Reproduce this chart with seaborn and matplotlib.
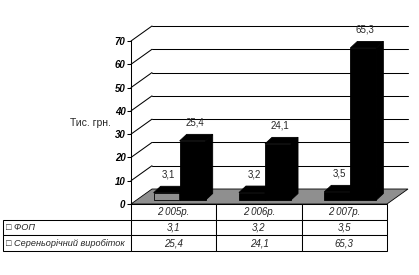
import matplotlib
matplotlib.use('Agg')
import matplotlib.pyplot as plt
import seaborn as sns
import pandas as pd
import numpy as np
from matplotlib.transforms import offset_copy, IdentityTransform
from matplotlib.patches import Polygon
from matplotlib.lines import Line2D

# ---- data ----
years = ["2 005р.", "2 006р.", "2 007р."]
series_names = ["ФОП", "Сереньорічний виробіток"]
fop = [3.1, 3.2, 3.5]
avg_output = [25.4, 24.1, 65.3]
y_ticks = [0, 10, 20, 30, 40, 50, 60, 70]
y_label = "Тис. грн."

sns.set_style('white')
plt.rcParams['font.family'] = ['Liberation Sans', 'DejaVu Sans']

W, H = 419, 275
fig = plt.figure(figsize=(W / 100, H / 100), dpi=100)
ax = fig.add_axes([131 / W, (H - 204) / H, 256 / W, 163 / H])

df = pd.DataFrame({
    'year': years * 2,
    'series': [series_names[0]] * len(years) + [series_names[1]] * len(years),
    'value': fop + avg_output,
})
sns.barplot(data=df, x='year', y='value', hue='series', order=years,
            hue_order=series_names, palette=['black', 'black'], saturation=1,
            width=0.61, edgecolor='black', linewidth=0.6, legend=False,
            errorbar=None, ax=ax)
ax.set_xlim(-0.5, 2.5)
ax.set_ylim(0, 70)
ax.set_yticks(y_ticks)

FLOOR_D = np.array([21.0, 15.0])
BAR_SHIFT = (6, 4)
BAR_D = np.array([7.0, 6.5])
T_back = offset_copy(ax.transData, fig=fig, x=FLOOR_D[0], y=FLOOR_D[1], units='dots')
T_bar = offset_copy(ax.transData, fig=fig, x=BAR_SHIFT[0], y=BAR_SHIFT[1], units='dots')
ID = IdentityTransform()

# floor
fl = ax.transData.transform((-0.5, 0))
fr = ax.transData.transform((2.5, 0))
floor = Polygon([fl, fr, fr + FLOOR_D, fl + FLOOR_D], closed=True, transform=ID,
                facecolor='#8f8f8f', edgecolor='black', lw=0.6, zorder=1.5, clip_on=False)
ax.add_patch(floor)

# back-wall gridlines
for v in y_ticks[1:]:
    ax.plot([-0.5, 2.5], [v, v], transform=T_back, color='black', lw=0.75,
            clip_on=False, zorder=1)
    p = ax.transData.transform((-0.5, v))
    ax.add_line(Line2D([p[0], p[0] + FLOOR_D[0]], [p[1], p[1] + FLOOR_D[1]],
                       transform=ID, color='black', lw=0.75, clip_on=False, zorder=1))

# bars with 3D faces
def fmt(v):
    return f"{v:.1f}".replace('.', ',')

for ci, cont in enumerate(ax.containers):
    vals = fop if ci == 0 else avg_output
    for j, patch in enumerate(cont):
        z = 3 + ci
        patch.set_transform(T_bar)
        patch.set_zorder(z)
        patch.set_clip_on(False)
        if ci == 0 and j == 0:
            patch.set_facecolor('#8f8f8f')
        x0, w, h = patch.get_x(), patch.get_width(), patch.get_height()
        p0 = T_bar.transform((x0, h))
        p1 = T_bar.transform((x0 + w, h))
        q1 = T_bar.transform((x0 + w, 0))
        top = Polygon([p0, p1, p1 + BAR_D, p0 + BAR_D], closed=True, transform=ID,
                      facecolor='black', edgecolor='black', lw=0.6, zorder=z, clip_on=False)
        side = Polygon([q1, p1, p1 + BAR_D, q1 + BAR_D], closed=True, transform=ID,
                       facecolor='black', edgecolor='black', lw=0.6, zorder=z, clip_on=False)
        ax.add_patch(top)
        ax.add_patch(side)
        ax.annotate(fmt(vals[j]), xy=(x0 + w / 2, h), xycoords=T_bar,
                    xytext=(2, 18), textcoords='offset pixels', ha='center',
                    va='center', fontsize=7, zorder=6)

# axes styling
for s in ['top', 'right', 'bottom']:
    ax.spines[s].set_visible(False)
ax.spines['left'].set_color('black')
ax.spines['left'].set_linewidth(0.75)
ax.spines['left'].set_zorder(2)
ax.tick_params(axis='y', direction='out', length=3, width=0.75, labelsize=7,
               pad=1, left=True, colors='black')
ax.tick_params(axis='x', bottom=False, labelbottom=False)
for lbl in ax.get_yticklabels():
    lbl.set_fontweight('bold')
    lbl.set_fontstyle('italic')
ax.set_xlabel('')
ax.set_ylabel(y_label, rotation=0, ha='right', va='center', fontsize=7.5)
ax.yaxis.set_label_coords(-0.08, 0.5)
ax.patch.set_alpha(0)

# data table
cell_text = [["□ " + series_names[0]] + [fmt(v) for v in fop],
             ["□ " + series_names[1]] + [fmt(v) for v in avg_output]]
tab = ax.table(cellText=cell_text, colLabels=[''] + years,
               colWidths=[128 / 384] + [85.33 / 384] * 3,
               bbox=[-0.5, -47 / 163, 1.5, 47 / 163], cellLoc='center')
tab.auto_set_font_size(False)
tab.set_fontsize(7)
for (r, c), cell in tab.get_celld().items():
    cell.set_linewidth(0.75)
    cell.set_edgecolor('black')
    cell.get_text().set_fontstyle('italic')
    if (r, c) == (0, 0):
        cell.visible_edges = 'open'
    if c == 0:
        cell.set_text_props(ha='left', fontsize=6.6)
        cell._loc = 'left'
        cell.PAD = 0.02

fig.savefig('out.png', dpi=100)
